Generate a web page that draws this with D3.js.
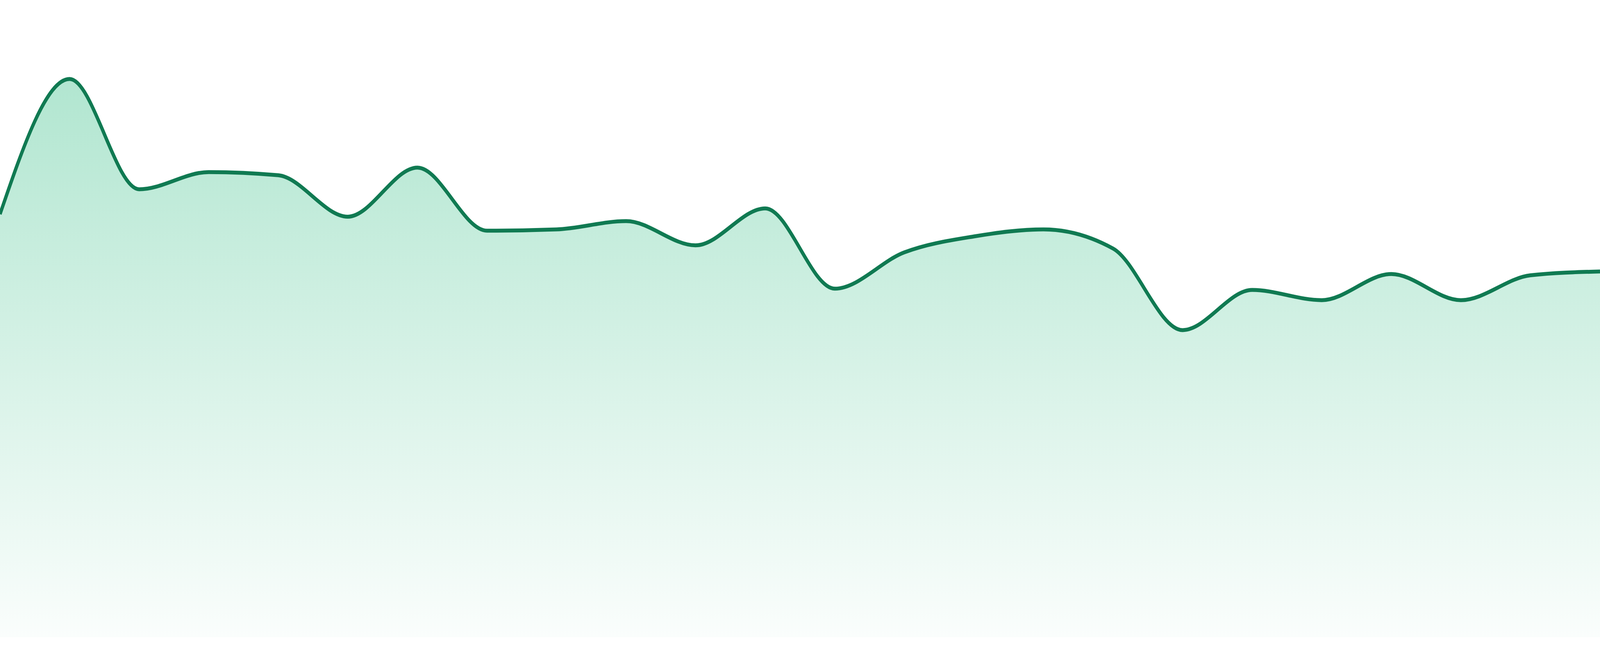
<!DOCTYPE html>
<html>
<head>
<meta charset="utf-8">
<script src="https://cdn.jsdelivr.net/npm/d3@7"></script>
<style>
  html, body { margin: 0; padding: 0; background: #fff; overflow: hidden; }
  #chart { width: 100vw; height: 100vh; }
  svg { display: block; width: 100%; height: 100%; }
</style>
</head>
<body>
<div id="chart"></div>
<script>
// Data (24 evenly spaced samples)
const days = d3.range(1, 25);
const values = [66.4, 87.6, 70.3, 73.0, 72.5, 66.0, 73.7, 63.8, 64.0, 65.3, 61.5, 67.3,
                54.7, 60.4, 62.9, 64.0, 61.0, 48.2, 54.5, 52.9, 57.0, 52.9, 56.8, 57.4];

const width = 4800;
const height = 1680;
const plotBottom = 1632;

// drawn in a fixed 4800x1680 space and stretched to fill the viewport
const svg = d3.select('#chart').append('svg')
    .attr('viewBox', `0 0 ${width} ${height}`)
    .attr('preserveAspectRatio', 'none');

// Scales
const x = d3.scalePoint()
    .domain(days)
    .range([0, width]);

const y = d3.scaleLinear()
    .domain([0, 100])
    .range([plotBottom, 0]);

// Soft green gradient under the line
const grad = svg.append('defs').append('linearGradient')
    .attr('id', 'fillGrad')
    .attr('gradientUnits', 'userSpaceOnUse')
    .attr('x1', 0).attr('x2', 0)
    .attr('y1', y(d3.max(values)))
    .attr('y2', y(0));

grad.append('stop').attr('offset', '0%')
    .attr('stop-color', '#13b371').attr('stop-opacity', 0.33);
grad.append('stop').attr('offset', '100%')
    .attr('stop-color', '#13b371').attr('stop-opacity', 0.02);

const series = days.map((d, i) => ({ day: d, value: values[i] }));

const area = d3.area()
    .x(d => x(d.day))
    .y0(y(0))
    .y1(d => y(d.value))
    .curve(d3.curveMonotoneX);

const line = d3.line()
    .x(d => x(d.day))
    .y(d => y(d.value))
    .curve(d3.curveMonotoneX);

svg.append('path')
    .datum(series)
    .attr('fill', 'url(#fillGrad)')
    .attr('d', area);

svg.append('path')
    .datum(series)
    .attr('fill', 'none')
    .attr('stroke', '#107a52')
    .attr('stroke-width', 10)
    .attr('d', line);
</script>
</body>
</html>
